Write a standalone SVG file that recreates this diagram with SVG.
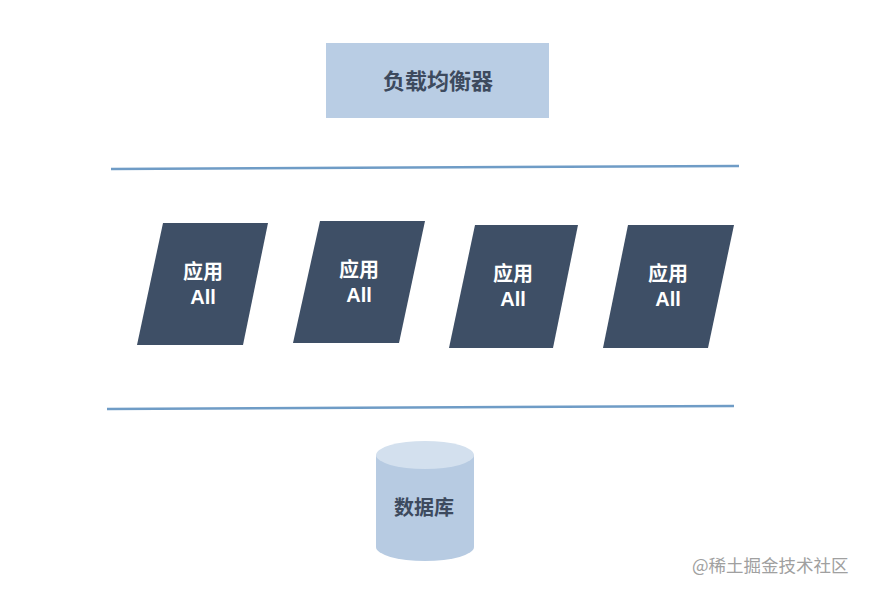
<svg xmlns="http://www.w3.org/2000/svg" width="870" height="594" viewBox="0 0 870 594">
<style>
.bold{font-family:"Liberation Sans","Noto Sans CJK SC",sans-serif;font-weight:bold;font-size:20px;text-anchor:middle;dominant-baseline:central}
.app{fill:#3e4f66}
.appt{fill:#ffffff}
.dark{fill:#3d4a5e}
.line{stroke:#6f9cc6;stroke-width:2.5;fill:none}
</style>
<rect width="870" height="594" fill="#ffffff"/>
<g id="lb">
<rect x="326" y="43" width="223" height="75" fill="#b9cde4"/>
<text class="bold dark" x="438" y="81" style="font-size:22px">负载均衡器</text>
</g>
<g id="connectors">
<line class="line" x1="111" y1="169" x2="739" y2="166"/>
<line class="line" x1="107" y1="409" x2="734" y2="406"/>
</g>
<g id="app1">
<polygon class="app" points="163,223 268,223 243,345 137,345"/>
<text class="bold appt" x="203" y="272">应用</text>
<text class="bold appt" x="203" y="297">All</text>
</g>
<g id="app2">
<polygon class="app" points="320,221 425,221 399,343 293,343"/>
<text class="bold appt" x="359" y="270">应用</text>
<text class="bold appt" x="359" y="295">All</text>
</g>
<g id="app3">
<polygon class="app" points="475,225 578,225 553,348 449,348"/>
<text class="bold appt" x="513" y="274">应用</text>
<text class="bold appt" x="513" y="299">All</text>
</g>
<g id="app4">
<polygon class="app" points="628,225 734,225 708,348 603,348"/>
<text class="bold appt" x="668" y="274">应用</text>
<text class="bold appt" x="668" y="299">All</text>
</g>
<g id="db">
<path d="M376,455 L376,547 A49,14 0 0 0 474,547 L474,455 Z" fill="#b7cbe2"/>
<ellipse cx="425" cy="455" rx="49" ry="14" fill="#d3e0ee"/>
<text class="bold dark" x="424" y="508">数据库</text>
</g>
<text x="692" y="572" font-family="'Noto Sans CJK SC',sans-serif" font-size="17.5" fill="#a0a0a0">@稀土掘金技术社区</text>
</svg>
